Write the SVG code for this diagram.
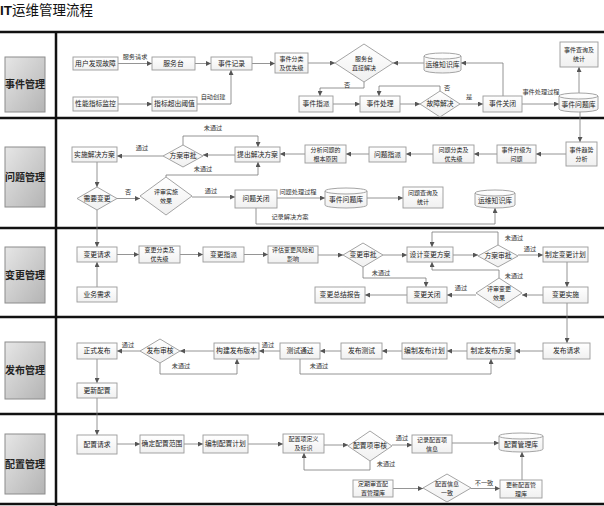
<svg xmlns="http://www.w3.org/2000/svg" width="604" height="506" viewBox="0 0 604 506">
<defs>
<linearGradient id="lg" x1="0" y1="0" x2="1" y2="1"><stop offset="0" stop-color="#e6e6e6"/><stop offset="1" stop-color="#b4b4b4"/></linearGradient>
<linearGradient id="ng" x1="0" y1="0" x2="0" y2="1"><stop offset="0" stop-color="#ffffff"/><stop offset="1" stop-color="#f0f0f0"/></linearGradient>
<marker id="ar" viewBox="0 0 6 6" refX="6" refY="3" markerWidth="5" markerHeight="5" markerUnits="userSpaceOnUse" orient="auto"><path d="M0,0 L6,3 L0,6 z" fill="#555"/></marker>
</defs>
<style>
.title{font-family:"Noto Sans CJK SC","Liberation Sans",sans-serif;font-size:13.5px;fill:#111}
.lane{stroke:#111;stroke-width:2.5;fill:none}
.lb{fill:url(#lg);stroke:#8c8c8c;stroke-width:1}
.lbt{font-family:"Noto Sans CJK SC",sans-serif;font-size:10px;font-weight:bold;fill:#222;text-anchor:middle}
.n{fill:url(#ng);stroke:#9a9a9a;stroke-width:0.9}
.t{font-family:"Noto Sans CJK SC",sans-serif;font-size:6.8px;fill:#222;text-anchor:middle}
.t2{font-family:"Noto Sans CJK SC",sans-serif;font-size:6px;fill:#222;text-anchor:middle}
.l{font-family:"Noto Sans CJK SC",sans-serif;font-size:6.2px;fill:#333;text-anchor:middle}
.c{fill:none;stroke:#7a7a7a;stroke-width:0.8;marker-end:url(#ar)}
</style>
<rect width="604" height="506" fill="#ffffff"/>
<text x="0" y="15" class="title"><tspan font-family="Liberation Sans" font-weight="bold">IT</tspan>运维管理流程</text>

<g id="lanes">
<path class="lane" d="M0,32 H604 M0,118 H604 M0,228 H604 M0,317 H604 M0,414 H604 M0,504 H604 M56,32 V506"/>
</g>
<g id="lane-event"><rect class="lb" x="5" y="57" width="40" height="55"/><text class="lbt" x="25" y="88">事件管理</text></g>
<g id="lane-problem"><rect class="lb" x="5" y="147" width="40" height="60"/><text class="lbt" x="25" y="180.5">问题管理</text></g>
<g id="lane-change"><rect class="lb" x="5" y="247" width="40" height="56"/><text class="lbt" x="25" y="278.5">变更管理</text></g>
<g id="lane-release"><rect class="lb" x="5" y="342" width="40" height="57"/><text class="lbt" x="25" y="374">发布管理</text></g>
<g id="lane-config"><rect class="lb" x="5" y="434" width="40" height="60"/><text class="lbt" x="25" y="467.5">配置管理</text></g>

<g id="connectors">
<path class="c" d="M118,63.5 H152"/>
<path class="c" d="M195,63.5 H211"/>
<path class="c" d="M252,63.5 H275"/>
<path class="c" d="M308,63 H335"/>
<path class="c" d="M118,104 H152"/>
<path class="c" d="M197,104 H231 V70"/>
<path class="c" d="M424,63 H393"/>
<path class="c" d="M503,96 V63 H461"/>
<path class="c" d="M364,82 V88 H320 V96"/>
<path class="c" d="M333,104 H360"/>
<path class="c" d="M400,104 H420"/>
<path class="c" d="M440,91 V86 H379 V96"/>
<path class="c" d="M460,104 H483"/>
<path class="c" d="M522,104 H559"/>
<path class="c" d="M579,93 V67"/>
<path class="c" d="M580,112 V142"/>
<path class="c" d="M566,154 H536"/>
<path class="c" d="M497,154 H474"/>
<path class="c" d="M433,154 H406"/>
<path class="c" d="M369,154 H346"/>
<path class="c" d="M305,154 H280"/>
<path class="c" d="M235,155 H203"/>
<path class="c" d="M163,156 H117"/>
<path class="c" d="M183,145 V136 H258 V147"/>
<path class="c" d="M97,162 V187"/>
<path class="c" d="M117,198.5 H140"/>
<path class="c" d="M166,177 V175 H258 V162"/>
<path class="c" d="M192,197 H235"/>
<path class="c" d="M277,198 H325"/>
<path class="c" d="M367,198 H403"/>
<path class="c" d="M256,208 V224 H495 V208"/>
<path class="c" d="M97,210 V247"/>
<path class="c" d="M97,287 V262"/>
<path class="c" d="M117,254.5 H139"/>
<path class="c" d="M180,254.5 H203"/>
<path class="c" d="M244,254.5 H268"/>
<path class="c" d="M318,255 H343"/>
<path class="c" d="M383,255 H407"/>
<path class="c" d="M453,255 H478"/>
<path class="c" d="M518,255 H543"/>
<path class="c" d="M498,245 V232 H432 V247"/>
<path class="c" d="M567,262 V287"/>
<path class="c" d="M543,295 H522"/>
<path class="c" d="M476,295 H447"/>
<path class="c" d="M499,278 V270 H432 V262"/>
<path class="c" d="M363,267 V278 H426 V287"/>
<path class="c" d="M407,295 H365"/>
<path class="c" d="M567,303 V343"/>
<path class="c" d="M543,351 H515"/>
<path class="c" d="M467,351 H447"/>
<path class="c" d="M402,351 H382"/>
<path class="c" d="M341,351 H320"/>
<path class="c" d="M300,359 V374 H491 V359"/>
<path class="c" d="M280,351 H259"/>
<path class="c" d="M214,351 H180"/>
<path class="c" d="M140,351 H117"/>
<path class="c" d="M160,363 V374 H237 V359"/>
<path class="c" d="M97,359 V383"/>
<path class="c" d="M97,398 V435"/>
<path class="c" d="M117,444 H140"/>
<path class="c" d="M184,444 H203"/>
<path class="c" d="M248,444 H283"/>
<path class="c" d="M324,445 H348"/>
<path class="c" d="M392,445 H412"/>
<path class="c" d="M370,461 V470 H304 V453"/>
<path class="c" d="M452,443 H499"/>
<path class="c" d="M393,488.5 H423"/>
<path class="c" d="M471,488.5 H500"/>
<path class="c" d="M522,480 V452"/>
<text class="l" x="135" y="59">服务请求</text>
<text class="l" x="213" y="99">自动创建</text>
<text class="l" x="347" y="87">否</text>
<text class="l" x="447" y="90">否</text>
<text class="l" x="469" y="99">是</text>
<text class="l" x="541" y="94">事件处理过程</text>
<text class="l" x="213" y="130">未通过</text>
<text class="l" x="142" y="150">通过</text>
<text class="l" x="203" y="171">未通过</text>
<text class="l" x="128" y="194">否</text>
<text class="l" x="211" y="193">通过</text>
<text class="l" x="298" y="194">问题处理过程</text>
<text class="l" x="290" y="219">记录解决方案</text>
<text class="l" x="514" y="240">未通过</text>
<text class="l" x="530" y="251">通过</text>
<text class="l" x="514" y="278">未通过</text>
<text class="l" x="461" y="290">通过</text>
<text class="l" x="381" y="275">未通过</text>
<text class="l" x="319" y="368">未通过</text>
<text class="l" x="268" y="347">通过</text>
<text class="l" x="128" y="347">通过</text>
<text class="l" x="181" y="368">未通过</text>
<text class="l" x="402" y="440">通过</text>
<text class="l" x="386" y="466">未通过</text>
<text class="l" x="484" y="485">不一致</text>
</g>

<g id="n1"><rect class="n" x="73" y="57" width="45" height="13"/><text class="t" x="95.5" y="66">用户发现故障</text></g>
<g id="n2"><rect class="n" x="152" y="57" width="43" height="13"/><text class="t" x="173.5" y="66">服务台</text></g>
<g id="n3"><rect class="n" x="211" y="57" width="41" height="13"/><text class="t" x="231.5" y="66">事件记录</text></g>
<g id="n4"><rect class="n" x="275" y="53" width="33" height="20"/><text class="t2" x="291.5" y="60.7">事件分类</text><text class="t2" x="291.5" y="69.5">及优先级</text></g>
<g id="n5"><polygon class="n" points="335,63 364,44 393,63 364,82"/><text class="t2" x="364" y="60.7">服务台</text><text class="t2" x="364" y="69.5">直接解决</text></g>
<g id="n6"><path class="n" d="M424,56 V70 A18.5,3 0 0 0 461,70 V56 A18.5,3 0 0 0 424,56 A18.5,3 0 0 0 461,56"/><text class="t" x="442.5" y="67">运维知识库</text></g>
<g id="n7"><rect class="n" x="560" y="42" width="38" height="25"/><text class="t2" x="579" y="52.2">事件查询及</text><text class="t2" x="579" y="61">统计</text></g>
<g id="n8"><rect class="n" x="73" y="97" width="45" height="14"/><text class="t" x="95.5" y="106.4">性能指标监控</text></g>
<g id="n9"><rect class="n" x="152" y="97" width="45" height="14"/><text class="t" x="174.5" y="106.4">指标超出阈值</text></g>
<g id="n10"><rect class="n" x="299" y="96" width="34" height="16"/><text class="t" x="316" y="106.4">事件指派</text></g>
<g id="n11"><rect class="n" x="360" y="96" width="40" height="16"/><text class="t" x="380" y="106.4">事件处理</text></g>
<g id="n12"><polygon class="n" points="420,104 440,91 460,104 440,117"/><text class="t" x="440" y="106.4">故障解决</text></g>
<g id="n13"><rect class="n" x="483" y="96" width="39" height="16"/><text class="t" x="502.5" y="106.4">事件关闭</text></g>
<g id="n14"><path class="n" d="M559,96 V109 A19.5,3 0 0 0 598,109 V96 A19.5,3 0 0 0 559,96 A19.5,3 0 0 0 598,96"/><text class="t" x="578.5" y="107">事件问题库</text></g>

<g id="n15"><rect class="n" x="566" y="142" width="31" height="24"/><text class="t2" x="581.5" y="151.7">事件趋势</text><text class="t2" x="581.5" y="160.5">分析</text></g>
<g id="n16"><rect class="n" x="497" y="145" width="39" height="18"/><text class="t2" x="516.5" y="151.7">事件升级为</text><text class="t2" x="516.5" y="160.5">问题</text></g>
<g id="n17"><rect class="n" x="433" y="145" width="41" height="18"/><text class="t2" x="453.5" y="151.7">问题分类及</text><text class="t2" x="453.5" y="160.5">优先级</text></g>
<g id="n18"><rect class="n" x="369" y="147" width="37" height="15"/><text class="t" x="387.5" y="157">问题指派</text></g>
<g id="n19"><rect class="n" x="305" y="145" width="41" height="18"/><text class="t2" x="325.5" y="151.7">分析问题的</text><text class="t2" x="325.5" y="160.5">根本原因</text></g>
<g id="n20"><rect class="n" x="235" y="147" width="45" height="15"/><text class="t" x="257.5" y="157">提出解决方案</text></g>
<g id="n21"><polygon class="n" points="163,156 183,145 203,156 183,167"/><text class="t" x="183" y="158.4">方案审批</text></g>
<g id="n22"><rect class="n" x="72" y="147" width="45" height="15"/><text class="t" x="94.5" y="157">实施解决方案</text></g>
<g id="n23"><polygon class="n" points="77,198.5 97,187 117,198.5 97,210"/><text class="t" x="97" y="201">需要变更</text></g>
<g id="n24"><polygon class="n" points="140,196 166,177 192,196 166,215"/><text class="t2" x="166" y="193.7">评审实施</text><text class="t2" x="166" y="202.5">效果</text></g>
<g id="n25"><rect class="n" x="235" y="190" width="42" height="18"/><text class="t" x="256" y="201.4">问题关闭</text></g>
<g id="n26"><path class="n" d="M325,191 V205 A21,3 0 0 0 367,205 V191 A21,3 0 0 0 325,191 A21,3 0 0 0 367,191"/><text class="t" x="346" y="201.5">事件问题库</text></g>
<g id="n27"><rect class="n" x="403" y="187" width="40" height="21"/><text class="t2" x="423" y="195.2">问题查询及</text><text class="t2" x="423" y="204">统计</text></g>
<g id="n28"><path class="n" d="M475,193 V205 A20,3 0 0 0 515,205 V193 A20,3 0 0 0 475,193 A20,3 0 0 0 515,193"/><text class="t" x="495" y="202.5">运维知识库</text></g>

<g id="n29"><rect class="n" x="77" y="247" width="40" height="15"/><text class="t" x="97" y="257">变更请求</text></g>
<g id="n30"><rect class="n" x="77" y="287" width="40" height="15"/><text class="t" x="97" y="297">业务需求</text></g>
<g id="n31"><rect class="n" x="139" y="246" width="41" height="17"/><text class="t2" x="159.5" y="252.2">变更分类及</text><text class="t2" x="159.5" y="261">优先级</text></g>
<g id="n32"><rect class="n" x="203" y="247" width="41" height="15"/><text class="t" x="223.5" y="257">变更指派</text></g>
<g id="n33"><rect class="n" x="268" y="246" width="50" height="17"/><text class="t2" x="293" y="252.2">评估变更风险和</text><text class="t2" x="293" y="261">影响</text></g>
<g id="n34"><polygon class="n" points="343,255 363,243 383,255 363,267"/><text class="t" x="363" y="257.4">变更审批</text></g>
<g id="n35"><rect class="n" x="407" y="247" width="46" height="15"/><text class="t" x="430" y="257">设计变更方案</text></g>
<g id="n36"><polygon class="n" points="478,256 498,245 518,256 498,267"/><text class="t" x="498" y="258.4">方案审批</text></g>
<g id="n37"><rect class="n" x="543" y="247" width="45" height="15"/><text class="t" x="565.5" y="257">制定变更计划</text></g>
<g id="n38"><rect class="n" x="543" y="287" width="45" height="16"/><text class="t" x="565.5" y="297.4">变更实施</text></g>
<g id="n39"><polygon class="n" points="476,293 499,278 522,293 499,308"/><text class="t2" x="499" y="290.7">评审变更</text><text class="t2" x="499" y="299.5">效果</text></g>
<g id="n40"><rect class="n" x="407" y="287" width="40" height="16"/><text class="t" x="427" y="297.4">变更关闭</text></g>
<g id="n41"><rect class="n" x="315" y="287" width="50" height="16"/><text class="t" x="340" y="297.4">变更总结报告</text></g>

<g id="n42"><rect class="n" x="543" y="343" width="47" height="16"/><text class="t" x="566.5" y="353.4">发布请求</text></g>
<g id="n43"><rect class="n" x="467" y="343" width="48" height="16"/><text class="t" x="491" y="353.4">制定发布方案</text></g>
<g id="n44"><rect class="n" x="402" y="343" width="45" height="16"/><text class="t" x="424.5" y="353.4">编制发布计划</text></g>
<g id="n45"><rect class="n" x="341" y="343" width="41" height="16"/><text class="t" x="361.5" y="353.4">发布测试</text></g>
<g id="n46"><rect class="n" x="280" y="343" width="40" height="16"/><text class="t" x="300" y="353.4">测试通过</text></g>
<g id="n47"><rect class="n" x="214" y="343" width="45" height="16"/><text class="t" x="236.5" y="353.4">构建发布版本</text></g>
<g id="n48"><polygon class="n" points="140,351 160,339 180,351 160,363"/><text class="t" x="160" y="353.4">发布审核</text></g>
<g id="n49"><rect class="n" x="77" y="343" width="40" height="16"/><text class="t" x="97" y="353.4">正式发布</text></g>
<g id="n50"><rect class="n" x="77" y="383" width="40" height="15"/><text class="t" x="97" y="393">更新配置</text></g>

<g id="n51"><rect class="n" x="77" y="435" width="40" height="19"/><text class="t" x="97" y="446.9">配置请求</text></g>
<g id="n52"><rect class="n" x="140" y="435" width="44" height="18"/><text class="t" x="162" y="446.4">确定配置范围</text></g>
<g id="n53"><rect class="n" x="203" y="435" width="45" height="18"/><text class="t" x="225.5" y="446.4">编制配置计划</text></g>
<g id="n54"><rect class="n" x="283" y="434" width="41" height="19"/><text class="t2" x="303.5" y="441.2">配置项定义</text><text class="t2" x="303.5" y="450">及标识</text></g>
<g id="n55"><polygon class="n" points="348,446 370,431 392,446 370,461"/><text class="t" x="370" y="448.4">配置项审核</text></g>
<g id="n56"><rect class="n" x="412" y="435" width="40" height="18"/><text class="t2" x="432" y="441.7">记录配置项</text><text class="t2" x="432" y="450.5">信息</text></g>
<g id="n57"><path class="n" d="M499,436 V449 A22,3 0 0 0 543,449 V436 A22,3 0 0 0 499,436 A22,3 0 0 0 543,436"/><text class="t" x="521" y="446.5">配置管理库</text></g>
<g id="n58"><rect class="n" x="353" y="480" width="40" height="17"/><text class="t2" x="373" y="486.2">定期审查配</text><text class="t2" x="373" y="495">置管理库</text></g>
<g id="n59"><polygon class="n" points="423,488 447,474 471,488 447,502"/><text class="t2" x="447" y="485.7">配置信息</text><text class="t2" x="447" y="494.5">一致</text></g>
<g id="n60"><rect class="n" x="500" y="480" width="42" height="18"/><text class="t2" x="521" y="486.7">更新配置管</text><text class="t2" x="521" y="495.5">理库</text></g>
</svg>
